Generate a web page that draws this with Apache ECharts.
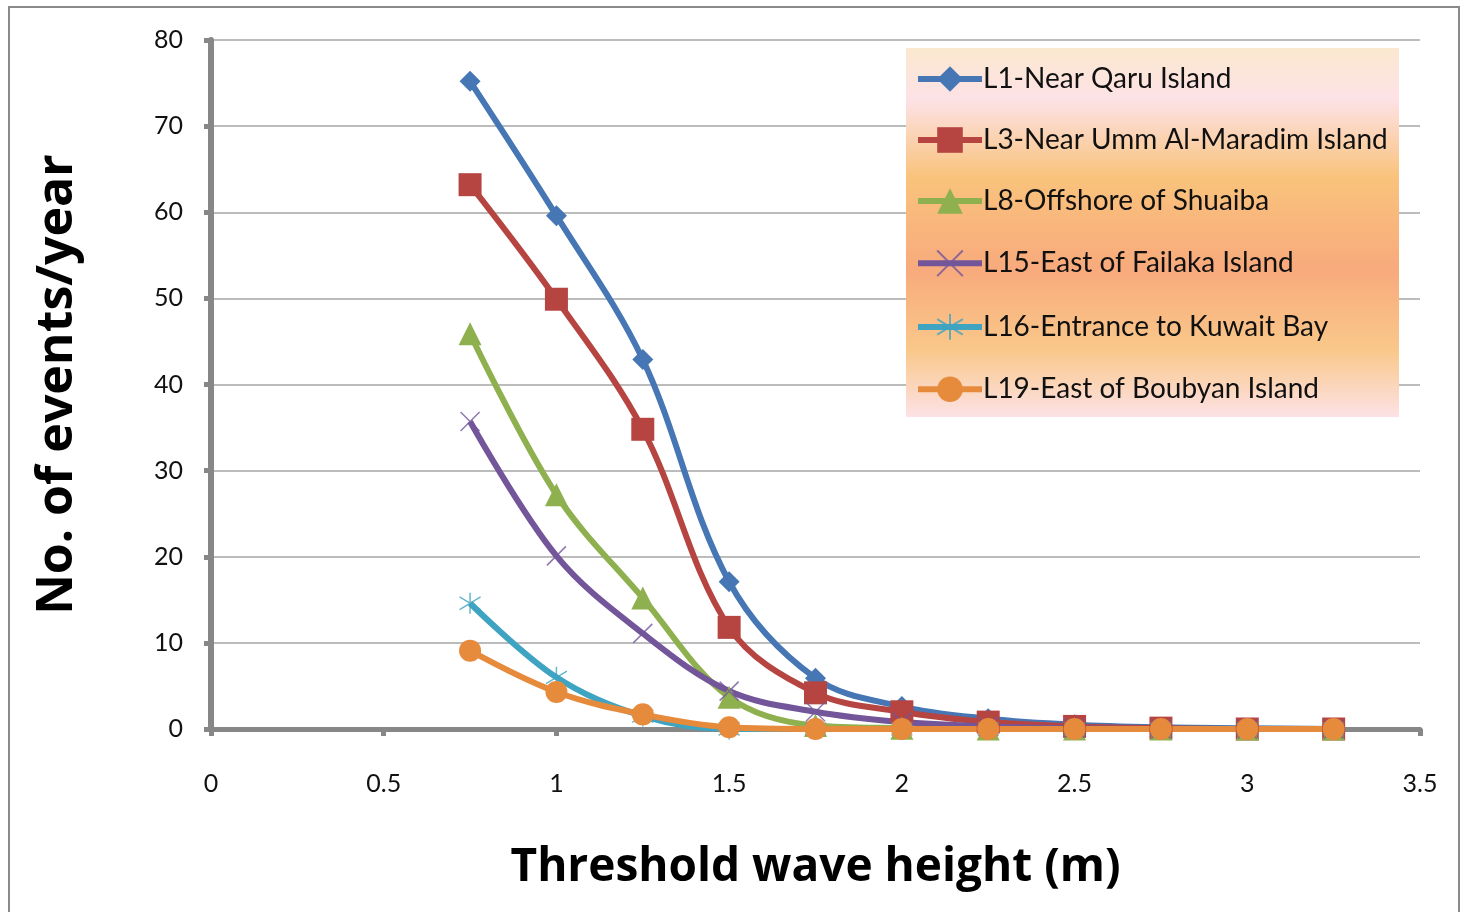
<!DOCTYPE html>
<html>
<head>
<meta charset="utf-8">
<script src="https://cdn.jsdelivr.net/npm/echarts@6/dist/echarts.min.js"></script>
<style>
  html, body { margin: 0; padding: 0; background: #fff; }
  #chart { width: 1462px; height: 912px; }
</style>
</head>
<body>
<div id="chart"></div>
<script>
// threshold wave height (m)
var heights = [0.75, 1, 1.25, 1.5, 1.75, 2, 2.25, 2.5, 2.75, 3, 3.25];

var seriesNames = [
    'L1-Near Qaru Island',
    'L3-Near Umm Al-Maradim Island',
    'L8-Offshore of Shuaiba',
    'L15-East of Failaka Island',
    'L16-Entrance to Kuwait Bay',
    'L19-East of Boubyan Island'
];

// events per year
var l1 = [75.2, 59.6, 42.9, 17.1, 5.9, 2.6, 1.2, 0.5, 0.2, 0.1, 0];
var l3 = [63.2, 49.9, 34.8, 11.8, 4.2, 2.0, 0.8, 0.3, 0.1, 0, 0];
var l8 = [45.9, 27.2, 15.2, 3.7, 0.4, 0.1, 0, 0, 0, 0, 0];
var l15 = [35.7, 20.1, 11.1, 4.4, 2.0, 0.8, 0.3, 0.1, 0, 0, 0];
var l16 = [14.6, 6.0, 1.5, 0, 0, 0, 0, 0, 0, 0, 0];
var l19 = [9.1, 4.3, 1.7, 0.2, 0, 0, 0, 0, 0, 0, 0];

var colors = ['#4677b4', '#b64542', '#8fb04e', '#73569a', '#3fa4c2', '#e68a3c'];

function pairs(ys) {
    var out = [];
    for (var i = 0; i < heights.length; i++) out.push([heights[i], ys[i]]);
    return out;
}

var xMark = 'path://M0,0L10,10M10,0L0,10';
var starMark = 'path://M5,0L5,10M0,2L10,8M0,8L10,2';

function makeSeries(idx, data, symbol, size, stroke) {
    var s = {
        name: seriesNames[idx],
        type: 'line',
        data: pairs(data),
        smooth: 0.35,
        symbol: symbol,
        symbolSize: size,
        showAllSymbol: true,
        lineStyle: { width: 6, color: colors[idx] },
        itemStyle: { color: colors[idx] }
    };
    if (stroke) {
        s.itemStyle = { color: 'none', borderColor: colors[idx], borderWidth: 1.5, opacity: 0.8 };
    }
    return s;
}

var myChart = echarts.init(document.getElementById('chart'));

var option = {
    animation: false,
    textStyle: { fontFamily: 'Lato, "Open Sans", sans-serif' },
    graphic: [
        {
            type: 'rect',
            z: -10,
            shape: { x: 9, y: 7, width: 1450, height: 910 },
            style: { fill: 'none', stroke: '#8a8a8a', lineWidth: 2 }
        },
        {
            type: 'rect',
            z: 1,
            shape: { x: 906, y: 48, width: 493, height: 369 },
            style: {
                fill: new echarts.graphic.LinearGradient(0, 0, 0, 1, [
                    { offset: 0, color: '#fbe8cf' },
                    { offset: 0.14, color: '#fde2e6' },
                    { offset: 0.35, color: '#f9c37c' },
                    { offset: 0.6, color: '#f8aa7c' },
                    { offset: 0.82, color: '#f9c88a' },
                    { offset: 1, color: '#fde2e6' }
                ])
            }
        }
    ],
    legend: {
        orient: 'vertical',
        left: 910,
        top: 60,
        itemGap: 33,
        itemWidth: 64,
        itemHeight: 32,
        z: 5,
        lineStyle: { width: 6 },
        textStyle: { fontSize: 28, color: '#111', fontFamily: 'Lato, sans-serif', padding: [0, 0, 0, -4] },
        data: seriesNames
    },
    grid: {
        left: 211,
        right: 42,
        top: 40,
        bottom: 183,
        containLabel: false
    },
    xAxis: {
        type: 'value',
        min: 0,
        max: 3.5,
        interval: 0.5,
        name: 'Threshold wave height (m)',
        nameLocation: 'middle',
        nameGap: 116,
        nameTextStyle: { fontSize: 46, fontWeight: 'bold', color: '#000', fontFamily: '"Open Sans", sans-serif' },
        splitLine: { show: false },
        axisLine: { lineStyle: { color: '#878787', width: 5 } },
        axisTick: { show: true, inside: false, length: 7, lineStyle: { color: '#878787', width: 5 } },
        axisLabel: { fontSize: 25, color: '#111', margin: 42 }
    },
    yAxis: {
        type: 'value',
        min: 0,
        max: 80,
        interval: 10,
        name: 'No. of events/year',
        nameLocation: 'middle',
        nameGap: 128,
        nameRotate: 90,
        nameTextStyle: { fontSize: 50, fontWeight: 'bold', color: '#000', fontFamily: '"Open Sans", sans-serif' },
        splitLine: { lineStyle: { color: '#a6a6a6', width: 1.5 } },
        axisLine: { show: true, lineStyle: { color: '#878787', width: 6 } },
        axisTick: { show: true, inside: false, length: 7, lineStyle: { color: '#878787', width: 5 } },
        axisLabel: { fontSize: 25, color: '#111', margin: 28 }
    },
    series: [
        makeSeries(0, l1, 'diamond', 21),
        makeSeries(1, l3, 'rect', 23),
        makeSeries(2, l8, 'triangle', 23),
        makeSeries(3, l15, xMark, 19, true),
        makeSeries(4, l16, starMark, 21, true),
        makeSeries(5, l19, 'circle', 22)
    ]
};

myChart.setOption(option, true);
</script>
</body>
</html>
